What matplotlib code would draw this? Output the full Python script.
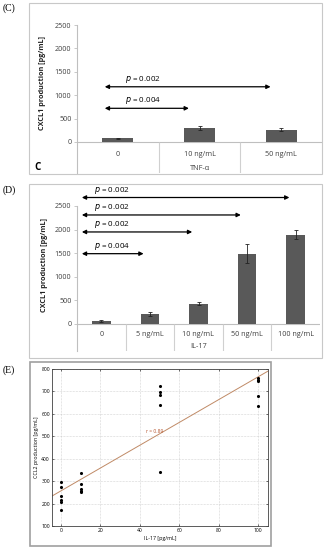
import numpy as np
import matplotlib
matplotlib.use("Agg")
from matplotlib import pyplot as plt
from matplotlib.patches import Rectangle

# panel C: TNF-alpha
tnf_cats = ["0", "10 ng/mL", "50 ng/mL"]
tnf_vals = [80, 300, 262]
tnf_err = [15, 50, 30]
tnf_pairs = [(0, 1, 720, "0.004"), (0, 2, 1180, "0.002")]

# panel D: IL-17
il_cats = ["0", "5 ng/mL", "10 ng/mL", "50 ng/mL", "100 ng/mL"]
il_vals = [70, 210, 430, 1490, 1895]
il_err = [18, 50, 35, 200, 90]
il_pairs = [(0, 1, 1490, "0.004"), (0, 2, 1950, "0.002"),
            (0, 3, 2310, "0.002"), (0, 4, 2680, "0.002")]

# panel E: scatter IL-17 vs CCL2
sc_x = [0, 0, 0, 0, 0, 0,
        10, 10, 10, 10, 10,
        50, 50, 50, 50, 50,
        100, 100, 100, 100, 100]
sc_y = [298, 275, 232, 215, 209, 172,
        338, 287, 265, 258, 252,
        722, 698, 685, 640, 342,
        760, 752, 745, 680, 637]
r_text = "r = 0.89"

W, H = 325, 550
fig = plt.figure(figsize=(W / 100, H / 100), dpi=100)
fig.patch.set_facecolor("white")
plt.rcParams["font.family"] = ["Open Sans", "DejaVu Sans"]


def box(x0, y0, x1, y1):
    # pixel box -> figure fraction rect
    return [x0 / W, 1 - y1 / H, (x1 - x0) / W, (y1 - y0) / H]


def frame(x0, y0, x1, y1, lw=0.8, color="#c8c8c8"):
    fig.patches.append(Rectangle((x0 / W, 1 - y1 / H), (x1 - x0) / W, (y1 - y0) / H,
                                 transform=fig.transFigure, fill=False,
                                 edgecolor=color, linewidth=lw))


def bar_panel(px, cats, vals, errs, pairs, xlabel, ylab_x, corner=None, arrow_start=-0.15, arrow_end=-0.12):
    # px: left, y(2500), right, y(0), bottom of category area
    left, ytop, right, yzero, ybot = px
    ppu = (yzero - ytop) / 2500.0
    ymin = -(ybot - yzero) / ppu
    ax = fig.add_axes(box(left, ytop, right, ybot))
    n = len(cats)
    xs = np.arange(n)
    ax.set_xlim(-0.5, n - 0.5)
    ax.set_ylim(ymin, 2500)
    ax.bar(xs, vals, width=0.38, color="#595959", zorder=2)
    ax.errorbar(xs, vals, yerr=errs, fmt="none", ecolor="#222222",
                elinewidth=0.6, capsize=1.2, capthick=0.6, zorder=3)
    for s in ["top", "right", "bottom"]:
        ax.spines[s].set_visible(False)
    ax.spines["left"].set_color("#bfbfbf")
    ax.spines["left"].set_linewidth(0.8)
    ax.axhline(0, color="#bfbfbf", lw=0.8, zorder=1)
    ax.vlines(xs[:-1] + 0.5, ymin, 0, color="#d0d0d0", lw=0.8)
    ax.set_yticks(np.arange(0, 2501, 500))
    ax.tick_params(axis="y", labelsize=5.2, length=2, width=0.6, color="#bfbfbf",
                   pad=2, labelcolor="#404040")
    ax.set_xticks([])
    lab_y = -(0.4 * (ybot - yzero)) / ppu
    for i, c in enumerate(cats):
        ax.text(i, lab_y, c, ha="center", va="center", fontsize=5.2, color="#404040")
    ax.text((n - 1) / 2, -(0.85 * (ybot - yzero)) / ppu, xlabel, ha="center",
            va="center", fontsize=5.2, color="#404040")
    for a, b, y, p in pairs:
        ax.annotate("", xy=(b + arrow_end, y), xytext=(a + arrow_start, y),
                    arrowprops=dict(arrowstyle="<|-|>", color="black", lw=0.9,
                                    mutation_scale=6, shrinkA=0, shrinkB=0),
                    annotation_clip=False)
        ax.text(a + arrow_start + 0.25, y + 40, "$p$ = " + p, fontsize=5.8,
                ha="left", va="bottom", color="black", clip_on=False)
    fig.text(ylab_x / W, 1 - (ytop + yzero) / 2 / H, "CXCL1 production [pg/mL]",
             rotation=90, ha="center", va="center", fontsize=5.2, fontweight="bold",
             color="#222222")
    if corner:
        fig.text(corner[0] / W, 1 - corner[1] / H, corner[2], fontsize=7,
                 fontweight="bold", ha="left", va="center")
    return ax


# panel C
frame(29, 3, 322, 174)
fig.text(3 / W, 1 - 8 / H, "(C)", family="Liberation Serif", fontsize=7, va="center")
bar_panel((77, 25, 322, 142, 173), tnf_cats, tnf_vals, tnf_err, tnf_pairs,
          "TNF-α", 42, corner=(34, 168, "C"), arrow_start=-0.16, arrow_end=-0.13)

# panel D
frame(29, 184, 322, 358)
fig.text(3 / W, 1 - 190 / H, "(D)", family="Liberation Serif", fontsize=7, va="center")
bar_panel((77, 206, 320, 324, 351), il_cats, il_vals, il_err, il_pairs,
          "IL-17", 45, arrow_start=-0.4, arrow_end=-0.13)

# panel E
frame(30, 362, 271, 546, lw=1.2, color="#a0a0a0")
fig.text(3 / W, 1 - 370 / H, "(E)", family="Liberation Serif", fontsize=7, va="center")
axe = fig.add_axes(box(52, 369, 268, 526))
axe.set_xlim(-4.6, 105)
axe.set_ylim(100, 800)
axe.grid(True, ls=":", lw=0.4, color="#b0b0b0")
axe.set_axisbelow(True)
slope, icpt = np.polyfit(sc_x, sc_y, 1)
lx = np.array(axe.get_xlim())
axe.plot(lx, slope * lx + icpt, color="#c08a66", lw=0.7)
axe.scatter(sc_x, sc_y, s=5, color="black", zorder=3, linewidths=0)
axe.text(43, 520, r_text, fontsize=3.6, color="#b5532c", ha="left", va="center")
axe.set_xticks(np.arange(0, 101, 20))
axe.set_yticks(np.arange(100, 801, 100))
axe.tick_params(labelsize=3.6, direction="in", length=1.5, width=0.4, pad=1.5,
                top=True, right=True)
for s in axe.spines.values():
    s.set_linewidth(0.6)
    s.set_color("#404040")
axe.set_xlabel("IL-17 [pg/mL]", fontsize=3.8, labelpad=2)
axe.set_ylabel("CCL2 production [pg/mL]", fontsize=3.8, labelpad=2)

fig.savefig("out.png", dpi=100, facecolor="white")
